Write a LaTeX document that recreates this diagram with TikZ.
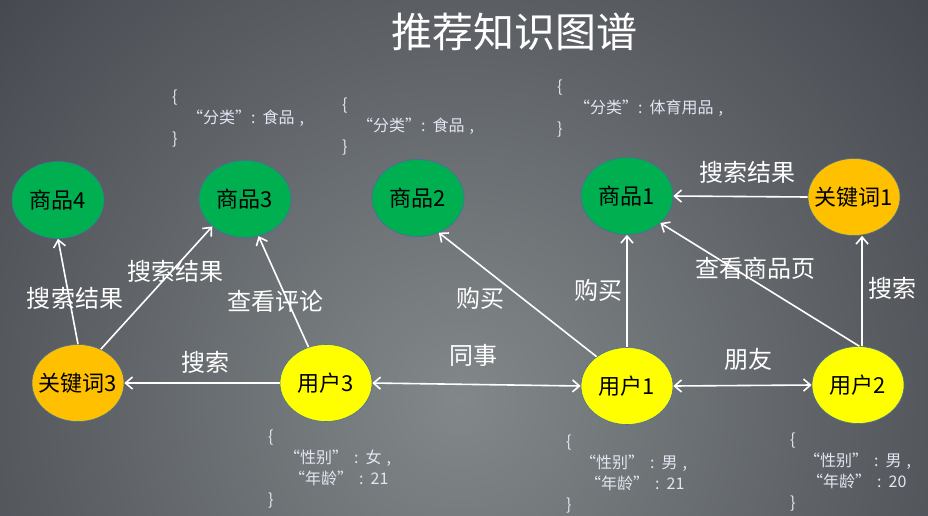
\documentclass[tikz,border=0pt]{standalone}
\usepackage{fontspec}
\setmainfont{Noto Sans CJK SC}
\usepackage{xcolor}
\usetikzlibrary{positioning,arrows.meta,shapes.geometric}
\definecolor{bgdark}{RGB}{22,22,32}
\definecolor{bgmid}{RGB}{130,136,138}
\definecolor{goodsgreen}{RGB}{0,176,80}
\definecolor{keyorange}{RGB}{255,192,0}
\definecolor{useryellow}{RGB}{255,255,0}
\definecolor{rimblue}{RGB}{65,113,156}
\definecolor{jsontext}{RGB}{228,228,242}

\begin{document}
\begin{tikzpicture}[x=1pt, y=-1pt, >={Straight Barb[length=7pt,width=12pt]},
    entity/.style={ellipse, draw=rimblue, line width=0.6pt, minimum width=92pt, minimum height=77pt, inner sep=0pt, font=\fontsize{22}{24}\selectfont},
    goods/.style={entity, fill=goodsgreen},
    keyword/.style={entity, fill=keyorange},
    user/.style={entity, fill=useryellow},
    rel/.style={->, draw=white, line width=1.6pt},
    rellabel/.style={text=white, font=\fontsize{24}{26}\selectfont},
    attrs/.style={text=jsontext, align=left, anchor=north west, inner sep=0pt, font=\fontsize{16}{21}\selectfont}]

    % Background
    \useasboundingbox (0,0) rectangle (928,515);
    \begin{scope}
        \clip (0,0) rectangle (928,515);
        \fill[bgdark] (0,0) rectangle (928,515);
        \shade[inner color=bgmid, outer color=bgdark] (460,400) circle (1100);
    \end{scope}

    % Title
    \node[text=white, font=\fontsize{41}{46}\selectfont] (title) at (514,32) {推荐知识图谱};

    % Goods
    \node[goods] (g4) at (58,200) {\makebox[0pt]{商品4}};
    \node[goods] (g3) at (245,199) {\makebox[0pt]{商品3}};
    \node[goods] (g2) at (418,198) {\makebox[0pt]{商品2}};
    \node[goods] (g1) at (627,196) {\makebox[0pt]{商品1}};

    % Keywords
    \node[keyword] (k3) at (78,383) {\makebox[0pt]{关键词3}};
    \node[keyword] (k1) at (854,197) {\makebox[0pt]{关键词1}};

    % Users
    \node[user] (u3) at (326,383) {\makebox[0pt]{用户3}};
    \node[user] (u1) at (627,386) {\makebox[0pt]{用户1}};
    \node[user] (u2) at (858,385) {\makebox[0pt]{用户2}};

    % Relations
    \draw[rel] (k3.north) -- (g4.south);
    \draw[rel] (k3.56) -- (g3.220);
    \draw[rel] (u3.116) -- (g3.290);
    \draw[rel] (u3.west) -- (k3.east);
    \draw[rel, <->] (u3.east) -- (u1.west);
    \draw[rel] (u1.136) -- (g2.301);
    \draw[rel] (u1.north) -- (g1.south);
    \draw[rel, <->] (u1.east) -- (u2.west);
    \draw[rel] (u2.88) -- (g1.321);
    \draw[rel] (u2.84) -- (u2.84 |- k1.south);
    \draw[rel] (k1.west) -- (g1.east);

    % Relation labels
    \node[rellabel] (l1) at (75,298) {搜索结果};
    \node[rellabel] (l2) at (175,271) {搜索结果};
    \node[rellabel] (l3) at (275,301) {查看评论};
    \node[rellabel] (l4) at (205,362) {搜索};
    \node[rellabel] (l5) at (473,355) {同事};
    \node[rellabel] (l6) at (480,298) {购买};
    \node[rellabel] (l7) at (598,290) {购买};
    \node[rellabel] (l8) at (755,268) {查看商品页};
    \node[rellabel] (l9) at (747,172) {搜索结果};
    \node[rellabel] (l10) at (892,288) {搜索};
    \node[rellabel] (l11) at (748,359) {朋友};

    % Attributes
    \node[attrs] (a3) at (172,90) {\{\\\hspace*{15pt}“分类”:\hspace{7pt}食品\hspace{5pt},\\\}};
    \node[attrs] (a2) at (342,98) {\{\\\hspace*{15pt}“分类”:\hspace{7pt}食品\hspace{5pt},\\\}};
    \node[attrs] (a1) at (557,80) {\{\\\hspace*{17pt}“分类”:\hspace{7pt}体育用品\hspace{5pt},\\\}};
    \node[attrs] (b3) at (268,430) {\{\\\hspace*{16pt}“性别”\hspace{6pt}:\hspace{7pt}女\hspace{5pt},\\\hspace*{21pt}“年龄”\hspace{6pt}:\hspace{7pt}21\\\}};
    \node[attrs] (b1) at (566,435) {\{\\\hspace*{14pt}“性别”\hspace{6pt}:\hspace{7pt}男\hspace{5pt},\\\hspace*{19pt}“年龄”\hspace{6pt}:\hspace{7pt}21\\\}};
    \node[attrs] (b2) at (790,433) {\{\\\hspace*{14pt}“性别”\hspace{6pt}:\hspace{7pt}男\hspace{5pt},\\\hspace*{17pt}“年龄”\hspace{6pt}:\hspace{7pt}20\\\}};
\end{tikzpicture}
\end{document}
